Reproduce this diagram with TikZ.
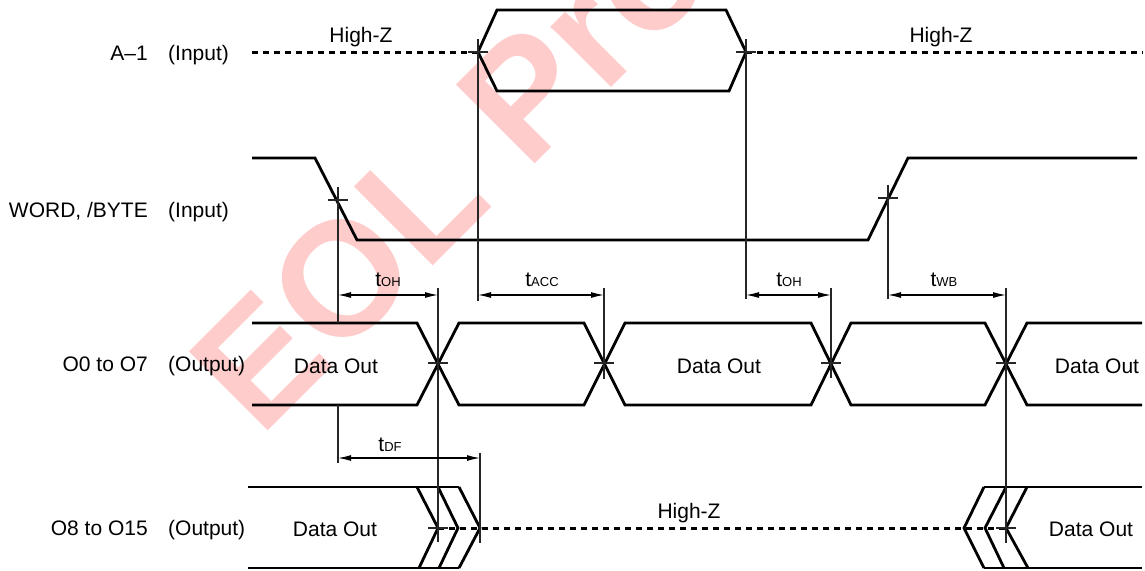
\documentclass[tikz,border=0pt]{standalone}
\usepackage{xcolor,tikz,fontspec}
\usetikzlibrary{arrows.meta,positioning,calc}
\setmainfont{Liberation Sans}
\definecolor{stamp}{RGB}{255,204,204}
\tikzset{
  sig/.style={line width=2.8pt,draw=black},
  hiz/.style={line width=3pt,draw=black,dash pattern=on 6.4pt off 4.6pt},
  tick/.style={line width=1.3pt,draw=black!85},
  dim/.style={{Latex[length=13pt,width=6pt]}-{Latex[length=13pt,width=6pt]},line width=1.2pt,draw=black},
  lab/.style={font=\fontsize{21}{25}\selectfont,inner sep=0pt,text=black},
  tlab/.style={lab,anchor=center}
}
\newcommand{\tname}[1]{t{\fontsize{13}{15}\selectfont #1}}
\begin{document}
\begin{tikzpicture}[x=1pt,y=-1pt]
  \useasboundingbox (0,0) rectangle (1145,570);
  \clip (0,0) rectangle (1145,570);
  \node[rotate=45,anchor=base west,inner sep=0pt,text=stamp,font=\bfseries\fontsize{162}{162}\selectfont] (stamp) at (260,439) {EOL Product};
  % time marks
  \coordinate (m1) at (338,200);
  \coordinate (m2) at (478,52);
  \coordinate (m3) at (746,52);
  \coordinate (m4) at (888,198);
  \coordinate (x1) at (438,363);
  \coordinate (x2) at (604,363);
  \coordinate (x3) at (831,363);
  \coordinate (x4) at (1006,363);
  \coordinate (z1) at (438,528);
  \coordinate (z2) at (480,528);
  \coordinate (z3) at (964,528);
  \coordinate (z4) at (1006,528);
  % signals
  \draw[hiz] (252,52)--(m2);
  \draw[hiz] (m3)--(1143,52);
  \draw[sig] (m2)--(497,10)--(726,10)--(m3)--(729,91)--(497,91)--cycle;
  \draw[sig] (252,158)--(315,158)--(357,240)--(868,240)--(908,158)--(1137,158);
  \draw[sig] (252,323)--(417,323)--(459,405)--(584,405)--(625,323)--(811,323)--(851,405)--(985,405)--(1027,323)--(1142,323);
  \draw[sig] (252,405)--(417,405)--(459,323)--(584,323)--(625,405)--(811,405)--(851,323)--(985,323)--(1027,405)--(1142,405);
  \draw[sig] (248,487)--(459,487);
  \draw[sig] (248,568)--(459,568);
  \draw[sig] (417,487)--(z1)--(419,568);
  \draw[sig] (438,487)--(458,528)--(439,568);
  \draw[sig] (459,487)--(z2)--(459,568);
  \draw[hiz] (z1)--(z4);
  \draw[sig] (984,487)--(z3)--(984,568);
  \draw[sig] (1006,487)--(985,528)--(1004,568);
  \draw[sig] (1027,487)--(z4)--(1028,568);
  \draw[sig] (984,487)--(1142,487);
  \draw[sig] (984,568)--(1142,568);
  % thin marks
  \draw[tick] (338,187)--(338,323) (338,405)--(338,463);
  \draw[tick] (478,39)--(478,301);
  \draw[tick] (746,39)--(746,299);
  \draw[tick] (888,185)--(888,299);
  \draw[tick] (438,288)--(438,542);
  \draw[tick] (604,288)--(604,379);
  \draw[tick] (831,288)--(831,378);
  \draw[tick] (1006,288)--(1006,543);
  \draw[tick] (480,453)--(480,543);
  \foreach \m in {m1,m2,m3,m4,x1,x2,x3,x4,z1,z4}
    \draw[tick] ($(\m)+(-10,0)$)--($(\m)+(10,0)$);
  % timing
  \draw[dim] (338,295)--(438,295);
  \draw[dim] (478,295)--(604,295);
  \draw[dim] (746,295)--(831,295);
  \draw[dim] (888,295)--(1006,295);
  \draw[dim] (338,458)--(480,458);
  \node[tlab] (oh1) at (388,280) {\tname{OH}};
  \node[tlab] (acc) at (542,280) {\tname{ACC}};
  \node[tlab] (oh2) at (789,280) {\tname{OH}};
  \node[tlab] (wb) at (944,280) {\tname{WB}};
  \node[tlab] (df) at (390,445) {\tname{DF}};
  % text
  \node[tlab] (hz1) at (361,37) {High-Z};
  \node[tlab] (hz2) at (941,37) {High-Z};
  \node[tlab] (hz3) at (689,513) {High-Z};
  \node[tlab] (d1) at (336,366) {Data Out};
  \node[tlab] (d2) at (719,366) {Data Out};
  \node[tlab] (d3) at (1097,366) {Data Out};
  \node[tlab] (d4) at (335,529) {Data Out};
  \node[tlab] (d5) at (1091,529) {Data Out};
  \node[lab,anchor=base east] (a1) at (148,60) {A–1};
  \node[lab,anchor=base west] (a1io) at (168,60) {(Input)};
  \node[lab,anchor=base east] (wd) at (148,217) {WORD, /BYTE};
  \node[lab,anchor=base west] (wdio) at (168,217) {(Input)};
  \node[lab,anchor=base east] (o0) at (148,371) {O0 to O7};
  \node[lab,anchor=base west] (o0io) at (168,371) {(Output)};
  \node[lab,anchor=base east] (o8) at (148,535) {O8 to O15};
  \node[lab,anchor=base west] (o8io) at (168,535) {(Output)};
\end{tikzpicture}
\end{document}
